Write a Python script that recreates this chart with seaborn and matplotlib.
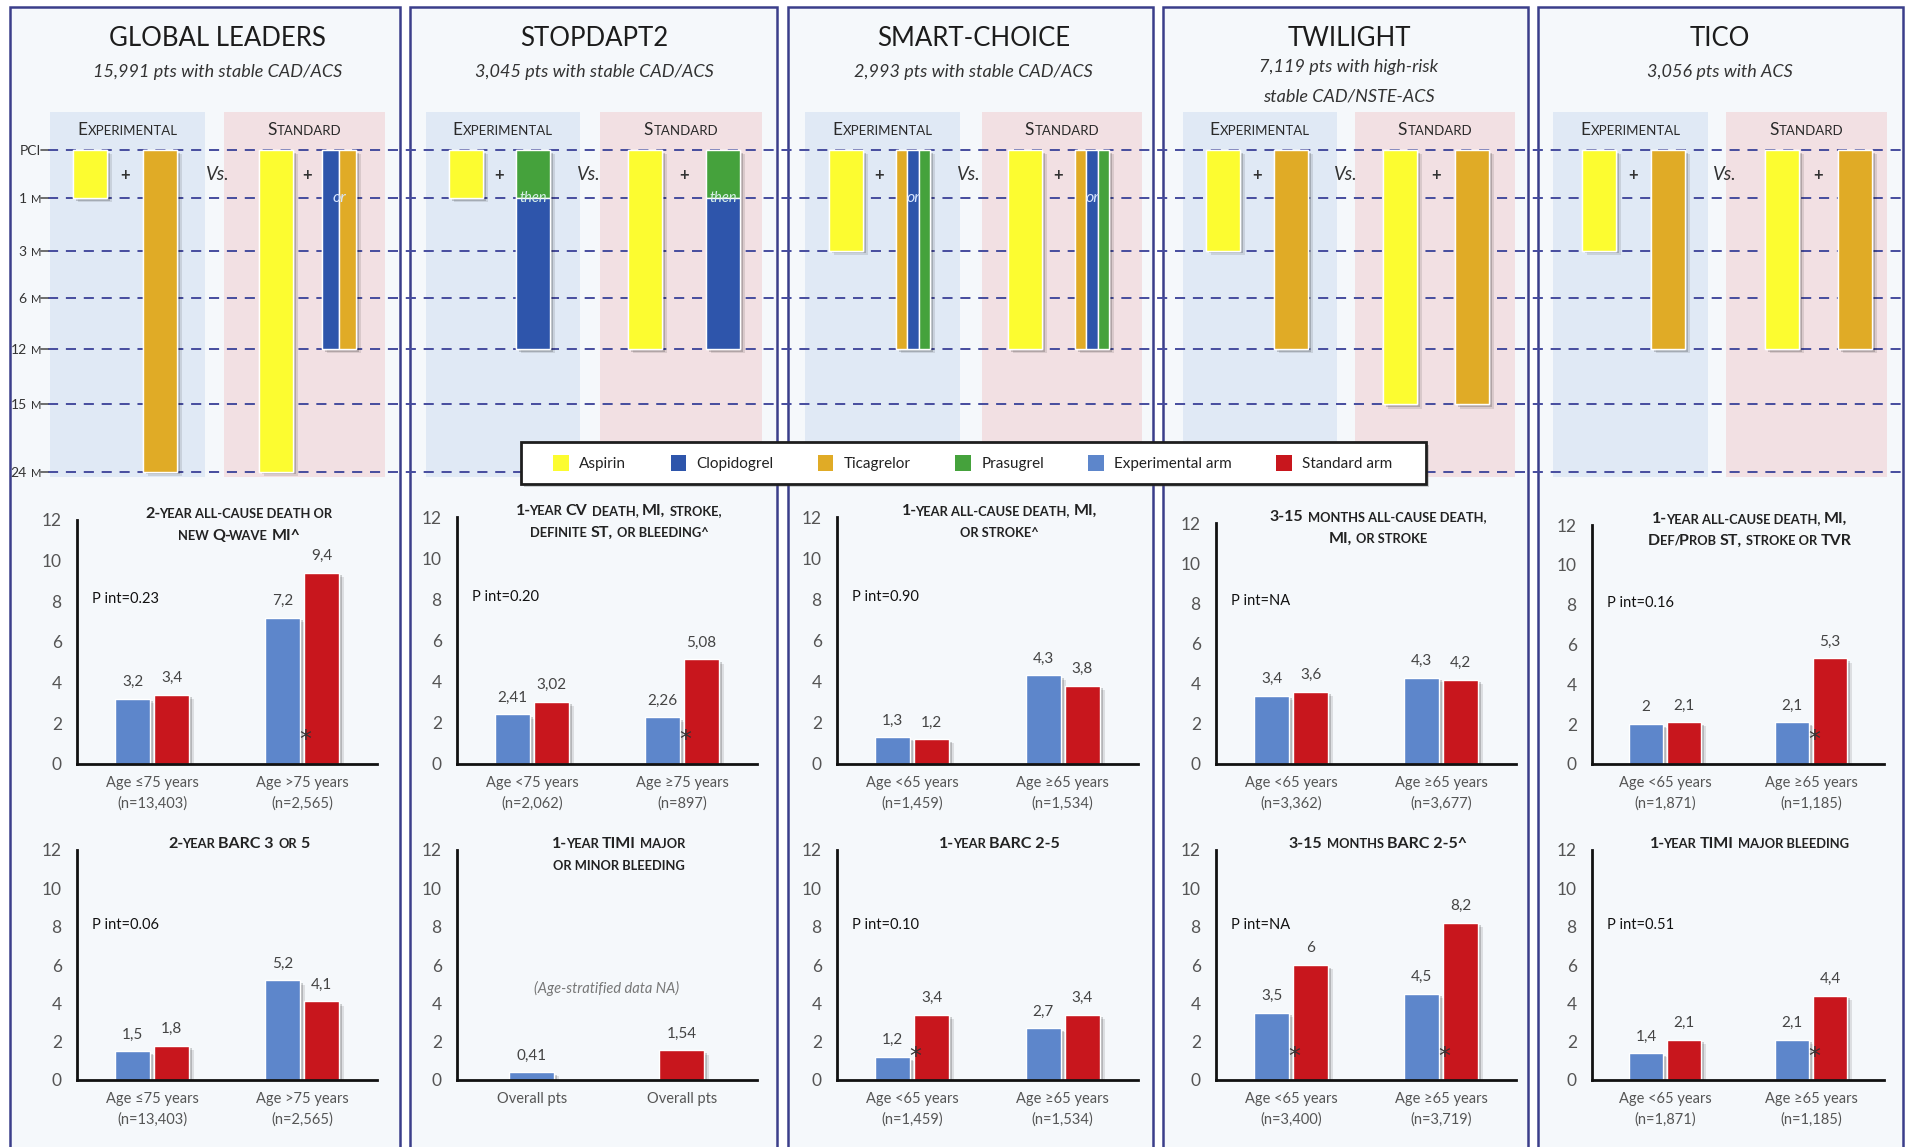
import matplotlib
matplotlib.use("Agg")
import matplotlib.pyplot as plt
import matplotlib.patheffects as pe
from matplotlib.patches import Rectangle, Patch
import pandas as pd
import seaborn as sns

sns.set_theme(style="white")
plt.rcParams["font.family"] = ["Lato", "DejaVu Sans"]

# ------------------------------------------------------------------ data
trials = ["GLOBAL LEADERS", "STOPDAPT2", "SMART-CHOICE", "TWILIGHT", "TICO"]
populations = [
    "15,991 pts with stable CAD/ACS",
    "3,045 pts with stable CAD/ACS",
    "2,993 pts with stable CAD/ACS",
    "7,119 pts with high-risk\nstable CAD/NSTE-ACS",
    "3,056 pts with ACS",
]

timepoints = ["PCI", "1 M", "3 M", "6 M", "12 M", "15 M", "24 M"]
timepoint_months = [0, 1, 3, 6, 12, 15, 24]

drugs = ["Aspirin", "Clopidogrel", "Ticagrelor", "Prasugrel"]
arms = ["Experimental arm", "Standard arm"]

# Four columns per trial: experimental aspirin, experimental P2Y12 inhibitor,
# standard aspirin, standard P2Y12 inhibitor.
# Each column is a list of (alternative drugs, start month, stop month).
regimen_global_leaders = [
    [(("Aspirin",), 0, 1)],
    [(("Ticagrelor",), 0, 24)],
    [(("Aspirin",), 0, 24)],
    [(("Clopidogrel", "Ticagrelor"), 0, 12)],
]
regimen_stopdapt2 = [
    [(("Aspirin",), 0, 1)],
    [(("Prasugrel",), 0, 1), (("Clopidogrel",), 1, 12)],
    [(("Aspirin",), 0, 12)],
    [(("Prasugrel",), 0, 1), (("Clopidogrel",), 1, 12)],
]
regimen_smart_choice = [
    [(("Aspirin",), 0, 3)],
    [(("Ticagrelor", "Clopidogrel", "Prasugrel"), 0, 12)],
    [(("Aspirin",), 0, 12)],
    [(("Ticagrelor", "Clopidogrel", "Prasugrel"), 0, 12)],
]
regimen_twilight = [
    [(("Aspirin",), 0, 3)],
    [(("Ticagrelor",), 0, 12)],
    [(("Aspirin",), 0, 15)],
    [(("Ticagrelor",), 0, 15)],
]
regimen_tico = [
    [(("Aspirin",), 0, 3)],
    [(("Ticagrelor",), 0, 12)],
    [(("Aspirin",), 0, 12)],
    [(("Ticagrelor",), 0, 12)],
]
regimens = [regimen_global_leaders, regimen_stopdapt2, regimen_smart_choice,
            regimen_twilight, regimen_tico]

# Ischemic / net endpoint (upper charts)
efficacy_titles = [
    "2-year all-cause death or\nnew Q-wave MI^",
    "1-year CV death, MI, stroke,\ndefinite ST, or bleeding^",
    "1-year all-cause death, MI,\nor stroke^",
    "3-15 months all-cause death,\nMI, or stroke",
    "1-year all-cause death, MI,\nDef/Prob ST, stroke or TVR",
]
efficacy_groups = [
    ["Age \u226475 years\n(n=13,403)", "Age >75 years\n(n=2,565)"],
    ["Age <75 years\n(n=2,062)", "Age \u226575 years\n(n=897)"],
    ["Age <65 years\n(n=1,459)", "Age \u226565 years\n(n=1,534)"],
    ["Age <65 years\n(n=3,362)", "Age \u226565 years\n(n=3,677)"],
    ["Age <65 years\n(n=1,871)", "Age \u226565 years\n(n=1,185)"],
]
efficacy_exp = [[3.2, 7.2], [2.41, 2.26], [1.3, 4.3], [3.4, 4.3], [2.0, 2.1]]
efficacy_std = [[3.4, 9.4], [3.02, 5.08], [1.2, 3.8], [3.6, 4.2], [2.1, 5.3]]
efficacy_pint = ["0.23", "0.20", "0.90", "NA", "0.16"]
efficacy_signif = [[1], [1], [], [], [1]]

# Bleeding endpoint (lower charts)
bleeding_titles = [
    "2-year BARC 3 or 5",
    "1-year TIMI major\nor minor bleeding",
    "1-year BARC 2-5",
    "3-15 months BARC 2-5^",
    "1-year TIMI major bleeding",
]
bleeding_groups = [
    ["Age \u226475 years\n(n=13,403)", "Age >75 years\n(n=2,565)"],
    ["Overall pts", "Overall pts"],
    ["Age <65 years\n(n=1,459)", "Age \u226565 years\n(n=1,534)"],
    ["Age <65 years\n(n=3,400)", "Age \u226565 years\n(n=3,719)"],
    ["Age <65 years\n(n=1,871)", "Age \u226565 years\n(n=1,185)"],
]
bleeding_exp = [[1.5, 5.2], [0.41], [1.2, 2.7], [3.5, 4.5], [1.4, 2.1]]
bleeding_std = [[1.8, 4.1], [1.54], [3.4, 3.4], [6.0, 8.2], [2.1, 4.4]]
bleeding_pint = ["0.06", None, "0.10", "NA", "0.51"]
bleeding_signif = [[], [], [0], [0, 1], [1]]
bleeding_note = [None, "(Age-stratified data NA)", None, None, None]

# ------------------------------------------------------------------ style
drug_colors = {"Aspirin": "#fcfc30", "Clopidogrel": "#2e55ab",
               "Ticagrelor": "#e0ab26", "Prasugrel": "#45a23c"}
arm_colors = {"Experimental arm": "#5d86cb", "Standard arm": "#c8161d"}
PANEL_BG = "#f5f8fb"
PANEL_EDGE = "#3b3e8a"
EXP_BG = "#e0e9f5"
STD_BG = "#f2e0e3"
DASH_COLOR = "#464c9e"

# ------------------------------------------------------------------ layout (pixels)
FIG_W, FIG_H = 1908, 1147
panel_left = [10, 410, 788, 1163, 1538]
panel_right = [400, 777, 1153, 1528, 1903]
exp_span = [(50, 205), (426, 580), (805, 960), (1183, 1337), (1553, 1708)]
std_span = [(224, 385), (600, 762), (982, 1142), (1355, 1515), (1726, 1887)]
column_x = [[90, 160, 276, 339], [466, 533, 645, 723], [846, 913, 1025, 1092],
            [1223, 1291, 1400, 1472], [1599, 1668, 1782, 1855]]
BAR_W = 34
row_pos = [0, 1.0, 2.1, 3.08, 4.15, 5.3, 6.7]   # vertical rows of the timepoints
ROW_PX = 48
TL_TOP, TL_ROW0, TL_BOTTOM = 112, 150, 480

chart_left = [77, 457, 837, 1216, 1592]
chart_right = [377, 757, 1138, 1516, 1884]
upper_top = [520, 517, 517, 523, 525]
UPPER_BOTTOM = 764
LOWER_TOP, LOWER_BOTTOM = 850, 1080

fig = plt.figure(figsize=(FIG_W / 100, FIG_H / 100), dpi=100)
fig.patch.set_facecolor("white")
renderer = fig.canvas.get_renderer()


def fx(x):
    return x / FIG_W


def fy(y):
    return 1 - y / FIG_H


def measure(s, size, weight="normal", style="normal"):
    t = fig.text(0, 0, s, fontsize=size, fontweight=weight, fontstyle=style)
    w = t.get_window_extent(renderer=renderer).width
    t.remove()
    return w


_space = {}


def space_width(size, weight, style):
    key = (size, weight, style)
    if key not in _space:
        _space[key] = measure("i i", size, weight, style) - measure("ii", size, weight, style)
    return _space[key]


def caps_text(x, y, s, big, small, ha="center", weight="normal", style="normal",
              color="#222222"):
    """Small-caps text: lower-case letters are drawn as smaller capitals."""
    runs = []
    prev_small = False
    for ch in s:
        if ch.isalpha():
            kind = ch.islower()
        elif ch.isdigit():
            kind = False
        else:
            kind = prev_small
        prev_small = kind
        size = small if kind else big
        if runs and runs[-1][1] == size:
            runs[-1][0] += ch.upper()
        else:
            runs.append([ch.upper(), size])
    pieces = []
    total = 0.0
    prev_core = ""
    for i, (txt, size) in enumerate(runs):
        sp = space_width(size, weight, style)
        core = txt.strip(" ")
        lead = (len(txt) - len(txt.lstrip(" "))) * sp
        trail = (len(txt) - len(txt.rstrip(" "))) * sp
        w = measure(core, size, weight, style) if core else 0.0
        join = 0.0
        if i > 0 and lead == 0:
            join = 0.03 * size * 100 / 72
            if prev_core.endswith(("-", "/")):
                join = -0.13 * size * 100 / 72
        pieces.append((core, size, total + join + lead))
        total += join + lead + w + trail
        prev_core = core if not trail else ""
    if ha == "center":
        x0 = x - total / 2
    elif ha == "right":
        x0 = x - total
    else:
        x0 = x
    base = y + 0.36 * big * 100 / 72
    for core, size, off in pieces:
        if core:
            fig.text(fx(x0 + off), fy(base), core, fontsize=size, fontweight=weight,
                     fontstyle=style, color=color, ha="left", va="baseline", zorder=6)


bar_shadow = [pe.SimplePatchShadow(offset=(3.5, -3.0), shadow_rgbFace="black", alpha=0.10),
              pe.SimplePatchShadow(offset=(2.0, -1.8), shadow_rgbFace="black", alpha=0.18),
              pe.Normal()]

# ------------------------------------------------------------------ panels
for l, r in zip(panel_left, panel_right):
    fig.add_artist(Rectangle((fx(l), fy(1160)), (r - l) / FIG_W, (1160 - 7) / FIG_H,
                             transform=fig.transFigure, facecolor=PANEL_BG,
                             edgecolor=PANEL_EDGE, lw=1.8, zorder=-5))

# ------------------------------------------------------------------ regimen timelines
tl = fig.add_axes([0, fy(TL_BOTTOM), 1, (TL_BOTTOM - TL_TOP) / FIG_H])
tl.set_facecolor("none")
tl.set_xlim(0, FIG_W)
tl.set_ylim((TL_BOTTOM - TL_ROW0) / ROW_PX, (TL_TOP - TL_ROW0) / ROW_PX)
tl.axis("off")
month_row = dict(zip(timepoint_months, row_pos))

shade_top = (TL_TOP - TL_ROW0) / ROW_PX
shade_bottom = 6.81
for (e0, e1), (s0, s1) in zip(exp_span, std_span):
    tl.add_patch(Rectangle((e0, shade_top), e1 - e0, shade_bottom - shade_top,
                           facecolor=EXP_BG, edgecolor="none", zorder=0.5))
    tl.add_patch(Rectangle((s0, shade_top), s1 - s0, shade_bottom - shade_top,
                           facecolor=STD_BG, edgecolor="none", zorder=0.5))

tl.hlines(row_pos, 48, FIG_W, colors=DASH_COLOR, linestyles=(0, (5.2, 4.0)), lw=1.4, zorder=1)
for lab, rp in zip(timepoints, row_pos):
    ypx = TL_ROW0 + rp * ROW_PX
    caps_text(41, ypx, lab.replace("M", "m"), 10, 8, ha="right", color="#333333")
    tl.plot([41, 48], [rp, rp], color="#555555", lw=1.2, zorder=1)

for i, regimen in enumerate(regimens):
    xs = column_x[i]
    for k, column in enumerate(regimen):
        x = xs[k]
        start = month_row[column[0][1]]
        stop = month_row[column[-1][2]]
        tl.bar(x, stop - start, bottom=start, width=BAR_W,
               color=drug_colors[column[0][0][0]], path_effects=bar_shadow, zorder=1.9)
        for alts, m0, m1 in column:
            n = len(alts)
            w = BAR_W / n
            for m, d in enumerate(alts):
                tl.bar(x - BAR_W / 2 + w * (m + 0.5), month_row[m1] - month_row[m0],
                       bottom=month_row[m0], width=w, color=drug_colors[d], zorder=2)
            if n > 1:
                tl.text(x, month_row[1], "or", ha="center", va="center", fontsize=11.5,
                        fontstyle="italic", color="#d8e6ff", zorder=3)
        if len(column) > 1:
            tl.text(x, month_row[column[1][1]], "then", ha="center", va="center",
                    fontsize=10.5, fontstyle="italic", color="#d8f0e8", zorder=3)
    tl.text((xs[0] + xs[1]) / 2, 0.52, "+", ha="center", va="center", fontsize=12,
            fontweight="bold", color="#333333", zorder=3)
    tl.text((xs[2] + xs[3]) / 2, 0.52, "+", ha="center", va="center", fontsize=12,
            fontweight="bold", color="#333333", zorder=3)
    tl.text((xs[1] + xs[2]) / 2, 0.52, "Vs.", ha="center", va="center", fontsize=13.5,
            fontstyle="italic", color="#333333", zorder=3)

    # headers
    cx = (exp_span[i][0] + std_span[i][1]) / 2
    fig.text(fx(cx), fy(46), trials[i], fontsize=18.5, ha="center", va="baseline",
             color="#1c1c1c")
    sub = populations[i].split("\n")
    if len(sub) == 1:
        fig.text(fx(cx), fy(72), sub[0], fontsize=13, fontstyle="italic", ha="center",
                 va="center", color="#333333")
    else:
        for j, line in enumerate(sub):
            fig.text(fx(cx), fy(67 + 30 * j), line, fontsize=13, fontstyle="italic",
                     ha="center", va="center", color="#333333")
    caps_text(sum(exp_span[i]) / 2, 129, "Experimental", 12.5, 9.5, color="#2a2a2a")
    caps_text(sum(std_span[i]) / 2, 129, "Standard", 12.5, 9.5, color="#2a2a2a")

# ------------------------------------------------------------------ legend
fig.add_artist(Rectangle((fx(521), fy(484)), (1426 - 521) / FIG_W, (484 - 442) / FIG_H,
                         transform=fig.transFigure, facecolor="white", edgecolor="#1e1e1e",
                         lw=2, zorder=4,
                         path_effects=[pe.SimplePatchShadow(offset=(2, -2), alpha=0.25),
                                       pe.Normal()]))
handles = [Patch(facecolor=drug_colors[d], edgecolor="none") for d in drugs] + \
          [Patch(facecolor=arm_colors[a], edgecolor="none") for a in arms]
leg = fig.legend(handles, drugs + arms, loc="center",
                 bbox_to_anchor=(fx(973), fy(463)), ncol=6, frameon=False, fontsize=11,
                 handlelength=1.0, handleheight=1.25, handletextpad=0.7, columnspacing=2.9)
leg.set_zorder(5)
for t in leg.get_texts():
    t.set_color("#222222")


# ------------------------------------------------------------------ outcome charts
def fmt_value(v):
    return f"{v:g}".replace(".", ",")


def outcome_chart(left, right, top, bottom, title, groups, exp_vals, std_vals, pint,
                  signif, note):
    ax = fig.add_axes([fx(left), fy(bottom), (right - left) / FIG_W, (bottom - top) / FIG_H])
    ax.set_facecolor("none")
    if len(exp_vals) == len(groups):
        df = pd.DataFrame({"group": groups * 2,
                           "arm": [arms[0]] * len(groups) + [arms[1]] * len(groups),
                           "value": exp_vals + std_vals})
        sns.barplot(data=df, x="group", y="value", hue="arm", order=groups, hue_order=arms,
                    palette=arm_colors, width=0.52, gap=0.1, saturation=1, errorbar=None,
                    legend=False, ax=ax)
    else:
        # one pooled estimate per arm, each in its own column
        df = pd.DataFrame({"slot": [0, 1], "arm": arms, "value": exp_vals + std_vals})
        sns.barplot(data=df, x="slot", y="value", hue="arm", hue_order=arms,
                    palette=arm_colors, dodge=False, width=0.3, saturation=1,
                    errorbar=None, legend=False, ax=ax)
    for p in ax.patches:
        p.set_path_effects(bar_shadow)
    ax.set_xlim(-0.5, 1.5)
    ax.set_ylim(0, 12)
    ax.set_yticks(range(0, 13, 2))
    ax.set_xticks([0, 1])
    ax.set_xticklabels(groups, fontsize=10.5, color="#555555", linespacing=1.55)
    ax.set_xlabel("")
    ax.set_ylabel("")
    ax.tick_params(axis="y", length=0, pad=11, labelsize=12.5, labelcolor="#555555")
    ax.tick_params(axis="x", length=0, pad=9)
    for side in ("top", "right"):
        ax.spines[side].set_visible(False)
    for side in ("left", "bottom"):
        ax.spines[side].set_color("#111111")
        ax.spines[side].set_linewidth(2)
    for c in ax.containers:
        ax.bar_label(c, fmt=fmt_value, padding=7, fontsize=11, color="#444444")
    if pint is not None:
        ax.text(0.05, 8.1, f"P int={pint}", transform=ax.get_yaxis_transform(),
                fontsize=10.5, va="center", ha="left", color="#111111")
    for g in signif:
        ax.text(g + 0.02, 0.85, "*", ha="center", va="baseline", fontsize=17,
                family="DejaVu Sans", color="#333333")
    if note:
        ax.text(0.5, 4.8, note, transform=ax.get_yaxis_transform(), ha="center",
                va="center", fontsize=10.5, fontstyle="italic", color="#777777")
    cx = (left + right) / 2 + 0.04 * (right - left)
    for j, line in enumerate(title.split("\n")):
        caps_text(cx, top - 8 + 22 * j, line, 11.5, 9.3, weight="bold", color="#222222")
    return ax


for i in range(len(trials)):
    outcome_chart(chart_left[i], chart_right[i], upper_top[i], UPPER_BOTTOM,
                  efficacy_titles[i], efficacy_groups[i], efficacy_exp[i], efficacy_std[i],
                  efficacy_pint[i], efficacy_signif[i], None)
    outcome_chart(chart_left[i], chart_right[i], LOWER_TOP, LOWER_BOTTOM,
                  bleeding_titles[i], bleeding_groups[i], bleeding_exp[i], bleeding_std[i],
                  bleeding_pint[i], bleeding_signif[i], bleeding_note[i])

fig.savefig("out.png", dpi=100)
